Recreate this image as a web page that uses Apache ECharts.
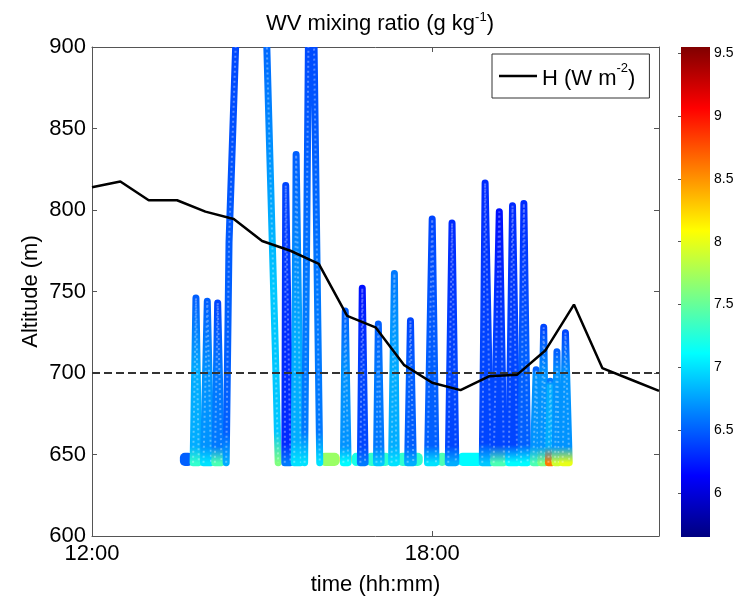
<!DOCTYPE html>
<html><head><meta charset="utf-8">
<script src="https://cdn.jsdelivr.net/npm/echarts@6/dist/echarts.min.js"></script>
<style>html,body{margin:0;padding:0;background:#fff}#c{width:738px;height:601px}</style>
</head><body><div id="c"></div><script>
// ---------------- data ----------------
const hTimes = ["12:00","12:30","13:00","13:30","14:00","14:30","15:00","15:30","16:00","16:30","17:00",
                "17:30","18:00","18:30","19:00","19:30","20:00","20:30","21:00","21:30","22:00"];
const hValues = [814,817.5,806,806,799,794.5,781,775,767,735,728,705,694,689.5,698,699,714,742,703,696,689];
const refAltitude = 700;
const xTicks = ["12:00","18:00"];
const yTicks = [600,650,700,750,800,850,900];
const colorTicks = [6,6.5,7,7.5,8,8.5,9,9.5];
const colorRange = [5.65, 9.55];

// vertical profiles: [time, altitude] vertices
const profilePoints = [
  [["13:47",645],["13:50",746],["13:53",645]],
  [["13:58",645],["14:02",744],["14:06",645]],
  [["14:10",645],["14:13",743],["14:17",645]],
  [["14:22",645],["14:25",780],["14:32",900],["14:33",915]],
  [["15:04",915],["15:05",900],["15:08",837],["15:14",714],["15:17",645]],
  [["15:24",645],["15:25",815],["15:30",645]],
  [["15:34",645],["15:36",834],["15:41",645]],
  [["15:45",645],["15:49",900],["15:50",915],["15:54",915],["15:55",900],["16:01",645]],
  [["16:26",645],["16:28",738],["16:31",645]],
  [["16:44",645],["16:46",752],["16:49",645]],
  [["17:01",645],["17:03",730],["17:06",645]],
  [["17:17",645],["17:20",761],["17:22",645]],
  [["17:34",645],["17:37",732],["17:40",645]],
  [["17:55",645],["18:00",794.5],["18:04",645]],
  [["18:17",645],["18:21",792],["18:25",645]],
  [["18:53",645],["18:56",816.5],["19:02",645]],
  [["19:05",645],["19:11",799],["19:16",645]],
  [["19:21",645],["19:25",802.6],["19:30",645]],
  [["19:34",645],["19:37",804],["19:41",645]],
  [["19:47",645],["19:50",702],["19:52",645]],
  [["19:55",645],["19:58",728],["20:00",645]],
  [["20:03",645],["20:05",695],["20:07",645]],
  [["20:10",645],["20:12",713],["20:14",645]],
  [["20:18",645],["20:21",724.7],["20:25",645]]
];
// WV mixing ratio (g/kg) at [bottom, lower part, top] of each profile
const profileValues = [
  [7.3,6.8,6.5],[7.0,6.7,6.5],[7.4,6.6,6.4],[6.8,6.5,6.4],[7.6,6.9,6.5],[6.6,6.3,6.4],
  [7.0,6.8,6.5],[7.0,6.6,6.4],[7.1,6.7,6.5],[6.6,6.4,6.2],[6.9,6.6,6.5],[7.0,6.8,6.6],
  [6.8,6.5,6.4],[7.0,6.5,6.4],[6.8,6.4,6.3],[6.9,6.4,6.3],[7.4,6.4,6.2],[7.1,6.4,6.3],
  [7.1,6.5,6.3],[7.4,6.7,6.5],[7.6,6.7,6.4],[8.6,6.8,6.6],[7.9,6.7,6.5],[8.0,6.7,6.4]
];
// samples taken at the surface between profiles
const surfaceStart = ["13:33","16:01","16:22","16:35","16:50","17:23","18:05","18:27"];
const surfaceEnd   = ["13:47","16:22","16:35","16:44","17:16","17:50","18:16","18:54"];
const surfaceValues = [6.5,7.7,8.2,7.2,7.3,7.3,7.4,7.1];
const surfaceAltRange = [643,651];

// ---------------- helpers ----------------
function hm(s){const p=s.split(':').map(Number);return p[0]+p[1]/60;}
function fmtHM(v){const h=Math.floor(v+1e-6);const m=Math.round((v-h)*60);return h+':'+String(m).padStart(2,'0');}
function clamp(x){return Math.max(0,Math.min(1,x));}
function jet(v){
  const f=clamp((v-colorRange[0])/(colorRange[1]-colorRange[0]));
  const r=clamp(1.5-Math.abs(4*f-3)), g=clamp(1.5-Math.abs(4*f-2)), b=clamp(1.5-Math.abs(4*f-1));
  return 'rgb('+Math.round(r*255)+','+Math.round(g*255)+','+Math.round(b*255)+')';
}
const FONT='Liberation Sans, Arial, Helvetica, sans-serif';
const xTickValues = xTicks.map(hm);

const chart = echarts.init(document.getElementById('c'), null, {renderer:'canvas'});

function renderProfile(params, api){
  const i = api.value(2);
  const pts = profilePoints[i].map(p => api.coord([hm(p[0]), p[1]]));
  const vals = profileValues[i];
  let yTop = Infinity, yBot = -Infinity;
  pts.forEach(p => {yTop=Math.min(yTop,p[1]); yBot=Math.max(yBot,p[1]);});
  const y700 = api.coord([12,700])[1], y655 = api.coord([12,655])[1];
  const span = Math.max(1, yBot-yTop);
  const o700 = Math.min(0.6, Math.max(0.05,(y700-yTop)/span));
  const o655 = Math.min(0.93, Math.max(o700+0.01,(y655-yTop)/span));
  const grad = new echarts.graphic.LinearGradient(0, yTop, 0, yBot, [
    {offset:0, color: jet(vals[2])},
    {offset:o700, color: jet(vals[1])},
    {offset:o655, color: jet(vals[1])},
    {offset:1, color: jet(vals[0])}
  ], true);
  const isV = pts.length === 3;
  return {type:'group', children:[
    {type: isV ? 'polygon' : 'polyline', shape:{points:pts},
      style:{stroke:grad, fill: isV ? grad : null, lineWidth:7, lineJoin:'round', lineCap:'round'}},
    {type:'polyline', shape:{points:pts}, style:{stroke:'rgba(255,255,255,0.35)', fill:null, lineWidth:2, lineDash:[2,3]}}
  ]};
}
function renderSurface(params, api){
  const p0 = api.coord([api.value(0), surfaceAltRange[1]]);
  const p1 = api.coord([api.value(1), surfaceAltRange[0]]);
  return {type:'rect', shape:{x:p0[0], y:p0[1], width:p1[0]-p0[0], height:p1[1]-p0[1], r:5},
          style:{fill: jet(api.value(2))}};
}
function renderColorbar(params, api){
  const a = api.coord([0, colorRange[0]]), b = api.coord([1, colorRange[1]]);
  const stops=[];
  for(let k=0;k<=32;k++){const v=colorRange[1]-(colorRange[1]-colorRange[0])*k/32; stops.push({offset:k/32, color:jet(v)});}
  return {type:'rect', shape:{x:a[0], y:b[1], width:b[0]-a[0], height:a[1]-b[1]},
          style:{fill:new echarts.graphic.LinearGradient(0,0,0,1,stops)}};
}

const axisCol='#555';
const FS=22;
const option = {
  animation:false,
  backgroundColor:'#fff',
  title:{text:'WV mixing ratio (g kg{sup|-1})', left:375, top:6, textAlign:'center',
    textStyle:{fontFamily:FONT, fontWeight:'normal', fontSize:FS, color:'#000',
      rich:{sup:{fontSize:13, verticalAlign:'top', lineHeight:26, fontFamily:FONT, color:'#000'}}}},
  legend:{data:[{name:'H', icon:'rect'}], left:492, top:54, borderColor:'#333', borderWidth:1, borderRadius:0,
    padding:[8,14,8,7], itemWidth:38, itemHeight:2.5, itemGap:6,
    formatter:()=> '{t|H (W m}{sup|-2}{t|)}',
    textStyle:{fontFamily:FONT, color:'#000', fontSize:FS,
      rich:{t:{fontSize:FS, fontFamily:FONT, color:'#000', verticalAlign:'bottom', lineHeight:28},
            sup:{fontSize:13, fontFamily:FONT, color:'#000', verticalAlign:'top', lineHeight:28}}}},
  grid:[
    {left:92, right:79, top:47, bottom:64, show:false},
    {left:681, width:29, top:47, height:490, show:false}
  ],
  xAxis:[
    {type:'value', gridIndex:0, min:12, max:22, position:'bottom',
      name:'time (hh:mm)', nameLocation:'middle', nameGap:38,
      nameTextStyle:{fontFamily:FONT, fontSize:FS, color:'#000'},
      axisLine:{show:true, lineStyle:{color:axisCol}},
      axisTick:{inside:true, length:5, lineStyle:{color:axisCol}, customValues:xTickValues},
      splitLine:{show:false},
      axisLabel:{customValues:xTickValues, formatter:v=>fmtHM(v), margin:7, fontFamily:FONT, fontSize:FS, color:'#000'}},
    {type:'value', gridIndex:0, min:12, max:22, position:'top',
      axisLine:{show:true, lineStyle:{color:axisCol}},
      axisTick:{inside:true, length:5, lineStyle:{color:axisCol}, customValues:xTickValues},
      splitLine:{show:false}, axisLabel:{show:false}},
    {type:'value', gridIndex:1, min:0, max:1, show:false}
  ],
  yAxis:[
    {type:'value', gridIndex:0, min:600, max:900, interval:50, position:'left',
      name:'Altitude (m)', nameLocation:'middle', nameGap:50, nameMoveOverlap:false,
      nameTextStyle:{fontFamily:FONT, fontSize:FS, color:'#000'},
      axisLine:{show:true, lineStyle:{color:axisCol}}, axisTick:{inside:true, length:5, lineStyle:{color:axisCol}},
      splitLine:{show:false},
      axisLabel:{margin:6, fontFamily:FONT, fontSize:FS, color:'#000'}},
    {type:'value', gridIndex:0, min:600, max:900, interval:50, position:'right',
      axisLine:{show:true, lineStyle:{color:axisCol}}, axisTick:{inside:true, length:5, lineStyle:{color:axisCol}},
      splitLine:{show:false}, axisLabel:{show:false}},
    {type:'value', gridIndex:1, min:colorRange[0], max:colorRange[1], position:'right',
      axisLine:{show:false}, splitLine:{show:false},
      axisTick:{show:true, inside:true, length:3, lineStyle:{color:'#555'}, customValues:colorTicks},
      axisLabel:{customValues:colorTicks, margin:4, fontFamily:FONT, fontSize:14, color:'#000'}},
    {type:'value', gridIndex:1, min:colorRange[0], max:colorRange[1], position:'left',
      axisLine:{show:false}, splitLine:{show:false},
      axisTick:{show:true, inside:true, length:3, lineStyle:{color:'#555'}, customValues:colorTicks},
      axisLabel:{show:false}}
  ],
  series:[
    {type:'custom', name:'surface', xAxisIndex:0, yAxisIndex:0, clip:true, z:2,
      data: surfaceStart.map((s,i)=>[hm(s), hm(surfaceEnd[i]), surfaceValues[i]]),
      renderItem: renderSurface, silent:true},
    {type:'custom', name:'profiles', xAxisIndex:0, yAxisIndex:0, clip:true, z:3,
      encode:{x:0, y:1},
      data: profilePoints.map((p,i)=>{const top=p.reduce((a,b)=>b[1]>a[1]?b:a); return [hm(top[0]), top[1], i];}),
      renderItem: renderProfile, silent:true},
    {type:'line', name:'ref', xAxisIndex:0, yAxisIndex:0, z:5, symbol:'none', silent:true,
      data:[[12,refAltitude],[22,refAltitude]],
      lineStyle:{color:'#333', width:2, type:[8,4]}},
    {type:'line', name:'H', xAxisIndex:0, yAxisIndex:0, z:6, symbol:'none', silent:true,
      data: hTimes.map((t,i)=>[hm(t), hValues[i]]),
      itemStyle:{color:'#000'},
      lineStyle:{color:'#000', width:2.5}},
    {type:'custom', name:'colorbar', xAxisIndex:2, yAxisIndex:2, z:1, silent:true,
      data:[[0.5, colorRange[0]]], renderItem: renderColorbar}
  ]
};
chart.setOption(option);
</script></body></html>
